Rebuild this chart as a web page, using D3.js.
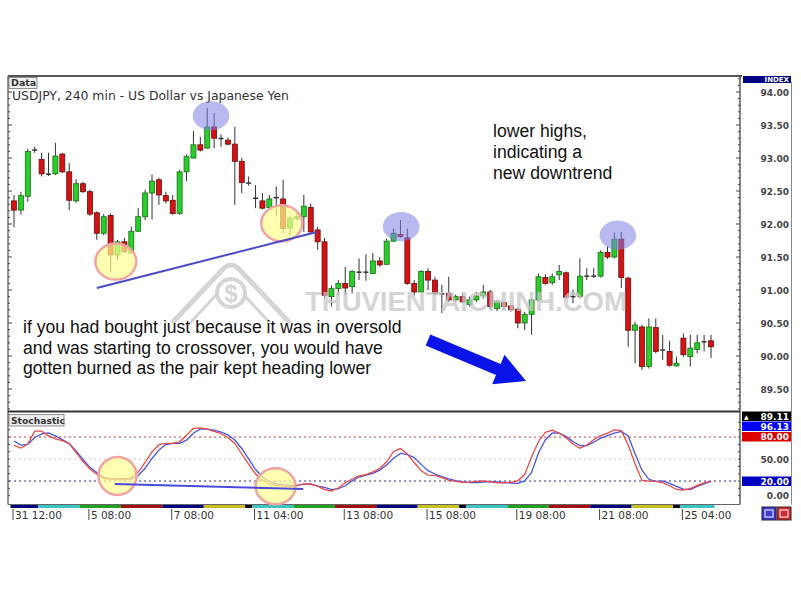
<!DOCTYPE html>
<html>
<head>
<meta charset="utf-8">
<script src="https://cdn.jsdelivr.net/npm/d3@7"></script>
<style>
  html, body { margin: 0; padding: 0; background: #fff; }
  svg { display: block; }
</style>
</head>
<body>
<svg id="chart" width="801" height="600"></svg>
<script>
// USDJPY 240 min candles
const opens = [92.35,92.21,92.42,93.11,92.98,92.76,92.76,93.06,92.79,92.35,
  92.61,92.49,92.17,91.86,92.13,91.53,91.73,91.56,91.89,92.11,
  92.47,92.67,92.43,92.36,92.16,92.79,93.00,93.20,93.15,93.47,
  93.30,93.27,93.21,92.95,92.62,92.39,92.35,92.25,92.40,92.38,
  91.94,92.08,92.11,92.25,91.91,91.73,90.90,91.02,91.10,91.05,
  91.27,91.27,91.25,91.44,91.39,91.74,91.84,91.79,91.10,90.97,
  91.28,91.15,90.94,90.95,90.85,90.90,90.78,90.85,90.91,90.97,
  90.72,90.81,90.76,90.71,90.50,90.63,90.85,91.19,91.11,91.23,
  91.26,90.90,90.90,91.21,91.21,91.21,91.57,91.50,91.77,91.18,
  90.39,90.44,89.84,90.43,90.09,90.07,89.85,90.27,89.99,90.10,
  90.21,90.23];
const highs = [92.44,92.49,93.14,93.17,93.08,93.08,93.23,93.08,92.92,92.68,
  92.64,92.52,92.19,92.15,92.16,91.76,91.79,91.96,92.24,92.52,
  92.75,92.70,92.49,92.44,92.82,93.05,93.41,93.32,93.76,93.68,
  93.36,93.31,93.47,93.00,92.72,92.59,92.47,92.44,92.57,92.67,
  92.13,92.19,92.44,92.31,91.96,91.79,91.07,91.15,91.35,91.30,
  91.48,91.54,91.56,91.50,91.78,91.93,92.06,91.93,91.15,91.30,
  91.33,91.20,91.08,91.20,90.93,90.95,90.90,90.97,91.08,91.00,
  90.85,90.83,90.78,90.73,90.67,90.87,91.25,91.24,91.25,91.38,
  91.28,91.00,91.48,91.33,91.33,91.60,91.66,91.87,91.88,91.20,
  90.52,90.47,90.57,90.57,90.32,90.23,89.99,90.34,90.32,90.32,
  90.32,90.32];
const lows = [91.95,92.14,92.34,93.08,92.72,92.73,92.74,92.77,92.21,92.32,
  92.47,92.12,91.76,91.83,91.28,91.45,91.56,91.55,91.88,92.06,
  92.07,92.29,92.31,92.14,92.14,92.65,92.99,93.10,93.14,93.15,
  93.17,93.19,92.29,92.47,92.58,92.24,92.22,92.21,92.11,91.86,
  91.83,92.05,91.88,91.86,91.61,90.87,90.75,90.92,90.92,90.95,
  91.15,91.14,91.24,91.35,91.38,91.73,91.79,91.08,90.92,90.96,
  91.00,90.92,90.65,90.82,90.82,90.80,90.75,90.82,90.87,90.70,
  90.68,90.71,90.67,90.42,90.39,90.32,90.82,91.08,91.08,91.15,
  90.87,90.80,90.87,91.15,91.18,91.19,91.47,91.48,91.03,90.14,
  89.89,89.79,89.81,90.04,89.94,89.84,89.84,89.99,89.84,90.04,
  90.07,89.97];
const closes = [92.21,92.43,93.10,93.13,92.76,92.75,93.03,92.79,92.36,92.61,
  92.49,92.15,91.86,92.11,91.53,91.73,91.58,91.89,92.11,92.47,
  92.65,92.44,92.35,92.16,92.79,93.02,93.20,93.12,93.47,93.30,
  93.29,93.21,92.95,92.63,92.62,92.39,92.24,92.38,92.40,91.93,
  92.09,92.11,92.27,91.88,91.73,90.92,91.02,91.10,91.03,91.28,
  91.27,91.27,91.44,91.38,91.74,91.86,91.81,91.10,90.97,91.28,
  91.15,90.95,90.94,90.85,90.90,90.82,90.85,90.91,90.97,90.75,
  90.82,90.75,90.70,90.50,90.63,90.85,91.20,91.10,91.20,91.28,
  90.89,90.90,91.21,91.21,91.21,91.57,91.50,91.77,91.19,90.39,
  90.47,89.84,90.44,90.07,90.09,89.86,89.89,90.02,90.12,90.20,
  90.22,90.14];

// stochastic lines, one value per bar
const stochRed = [68.7,65,70.5,88,88,81.7,77.6,75.2,71.1,58.9,
  46.9,36.4,29.3,23.5,22.8,23.2,21.7,24.6,32.3,45.4,
  59.6,69.6,71.5,71.5,73.5,82.5,92,92.6,90.9,87.9,
  84.5,79.4,71.2,56.9,43.2,29.9,21,16,14.2,13.1,
  12.3,13.9,16.2,15.6,13,8.3,6.4,10.5,17.7,22.8,
  26.9,28.9,32.5,37.1,46.3,60.3,64.3,56.8,44.9,34,
  28.2,27.7,24.7,20.9,19.5,18.3,18.6,19.5,20.1,19.1,
  17.6,17.7,18.3,20.3,28.9,52.8,74,86.4,89.4,85.5,
  79,70.5,64.8,69.2,76.3,82.1,85.5,89.9,88.8,69.2,
  43.4,20.9,19.8,19.5,17.7,13.6,8.5,7.8,9.8,14.2,
  17.5,19.9];
const stochBlue = [74.6,69,70,79.4,84.4,85.8,81.6,76.5,71.2,61.1,
  49.4,38.7,31.7,25.1,22.8,23.3,23.1,22.8,27.6,37.4,
  50.8,62.3,69.8,71.5,71.5,75.7,85.1,91,90.9,89.4,
  86.9,82.9,76,64.4,50.1,35.7,25.9,19.4,16.1,15.1,
  14.2,14.2,15.7,16,13.2,11.2,8.3,9.5,13.6,20.3,
  25.5,28,30.4,34.9,41.9,51.2,57.7,56.2,52,42.7,
  34.2,29.6,26.1,23,20.6,18.8,18,17.9,18.7,19.1,
  18.8,18,17.3,16.9,20.1,31.7,58.3,76.4,85.5,85.3,
  80.9,73.9,68.4,68.2,73,78.6,82.1,85.5,87.7,81.4,
  57.2,34.7,22.4,19.4,20.1,16.9,12.6,9.1,8.5,12.8,
  16.2,19.4];

// axis labels
const priceTicks = [89.5, 90, 90.5, 91, 91.5, 92, 92.5, 93, 93.5, 94];
const timeLabels = ['31 12:00', '5 08:00', '7 08:00', '11 04:00', '13 08:00', '15 08:00', '19 08:00', '21 08:00', '25 04:00'];
const timeLabelBars = [0, 11, 23, 35, 48, 60, 73, 85, 97];

// day colour strip under the time axis (colour, number of bars)
const dayColors = ['#000080','#3cc4c4','#22a022','#a01010','#000080','#c8c020','#000000',
  '#3cc4c4','#22a022','#a01010','#000080','#c8c020','#000000',
  '#3cc4c4','#22a022','#a01010','#000080','#c8c020','#000000','#3cc4c4'];
const dayBars = [4,6,6,6,6,6,1,6,6,6,6,6,1,6,6,6,6,6,1,5];

// stochastic side labels
const stochBoxes = [
  { text: '89.11', fill: '#000000', top: 411.5, arrow: true },
  { text: '96.13', fill: '#0000ff', top: 421.5 },
  { text: '80.00', fill: '#dd0000', top: 432 },
  { text: '20.00', fill: '#0000c0', top: 476.5 }
];
const stochPlainLabels = [50, 0];

// annotations in chart units
const blueMarks = [{ bar: 28.55, price: 93.64 }, { bar: 56.1, price: 91.96 }, { bar: 87.5, price: 91.83 }];
const yellowMarks = [{ bar: 14.75, price: 91.43 }, { bar: 38.8, price: 92.01 }];
const trendLine = [{ bar: 12, price: 91.03 }, { bar: 43.9, price: 91.88 }];
const stochYellow = [{ bar: 15, v: 27, rx: 19, ry: 19 }, { bar: 37.9, v: 12.8, rx: 20, ry: 18 }];
const stochLine = [{ bar: 14.6, v: 16 }, { bar: 41.9, v: 9.1 }];

const noteRight = ['lower highs,', 'indicating a', 'new downtrend'];
const noteLeft = ['if you had bought just because it was in oversold',
  'and was starting to crossover, you would have',
  'gotten burned as the pair kept heading lower'];

document.addEventListener('DOMContentLoaded', function() {
    const svg = d3.select('#chart');

    const x = d3.scaleLinear().domain([0, 101]).range([14, 711]);
    const y = d3.scaleLinear().domain([89.5, 94]).range([389, 92]);
    const ys = d3.scaleLinear().domain([0, 100]).range([495.7, 422.4]);

    const left = 8, right = 740, top = 76, sep = 411.5, bottom = 504.5, edge = 791.5;

    // frame
    svg.append('line').attr('x1', left).attr('x2', right + 2).attr('y1', top).attr('y2', top)
        .attr('stroke', '#555').attr('stroke-width', 2);
    svg.append('line').attr('x1', left).attr('x2', left).attr('y1', top).attr('y2', bottom)
        .attr('stroke', '#555').attr('stroke-width', 1.3);
    svg.append('line').attr('x1', right).attr('x2', right).attr('y1', top).attr('y2', bottom)
        .attr('stroke', '#444').attr('stroke-width', 1.3);
    svg.append('line').attr('x1', edge).attr('x2', edge).attr('y1', top + 6).attr('y2', bottom)
        .attr('stroke', '#888').attr('stroke-width', 1);
    svg.append('line').attr('x1', left).attr('x2', right).attr('y1', sep).attr('y2', sep)
        .attr('stroke', '#333').attr('stroke-width', 2);
    svg.append('line').attr('x1', left).attr('x2', right).attr('y1', bottom).attr('y2', bottom)
        .attr('stroke', '#666').attr('stroke-width', 1);

    // small ticks on both price edges
    const minorTicks = d3.range(0, 51).map(k => +(89.2 + k * 0.1).toFixed(1));
    const isMajor = v => Math.abs(v * 2 - Math.round(v * 2)) < 1e-6;
    svg.append('g').selectAll('line').data(minorTicks).join('line')
        .attr('x1', d => right - (isMajor(d) ? 4 : 2)).attr('x2', right)
        .attr('y1', d => y(d)).attr('y2', d => y(d))
        .attr('stroke', '#444');
    svg.append('g').selectAll('line').data(minorTicks).join('line')
        .attr('x1', left).attr('x2', d => left + (isMajor(d) ? 4 : 2))
        .attr('y1', d => y(d)).attr('y2', d => y(d))
        .attr('stroke', '#444');
    const stochTicks = d3.range(0, 101, 10);
    svg.append('g').selectAll('line').data(stochTicks).join('line')
        .attr('x1', right - 2).attr('x2', right)
        .attr('y1', d => ys(d)).attr('y2', d => ys(d))
        .attr('stroke', '#444');
    svg.append('g').selectAll('line').data(stochTicks).join('line')
        .attr('x1', left).attr('x2', left + 2)
        .attr('y1', d => ys(d)).attr('y2', d => ys(d))
        .attr('stroke', '#444');

    // price labels
    svg.append('g').selectAll('text').data(priceTicks).join('text')
        .attr('x', 789).attr('y', d => y(d) + 3.5)
        .attr('text-anchor', 'end')
        .attr('font-family', 'DejaVu Sans, sans-serif').attr('font-size', 9).attr('font-weight', 'bold')
        .attr('fill', '#444')
        .text(d => d.toFixed(2));

    // INDEX header
    svg.append('rect').attr('x', 743).attr('y', 76).attr('width', 48).attr('height', 7).attr('fill', '#000080');
    svg.append('text').attr('x', 789).attr('y', 82.3).attr('text-anchor', 'end')
        .attr('font-family', 'DejaVu Sans, sans-serif').attr('font-size', 7).attr('font-weight', 'bold')
        .attr('fill', '#fff').text('INDEX');

    // title and panel tags
    svg.append('rect').attr('x', 9).attr('y', 77.5).attr('width', 28).attr('height', 11)
        .attr('fill', '#eee').attr('stroke', '#777').attr('stroke-width', 0.8);
    svg.append('text').attr('x', 11).attr('y', 86.3)
        .attr('font-family', 'DejaVu Sans, sans-serif').attr('font-size', 9.5).attr('font-weight', 'bold')
        .attr('fill', '#333').text('Data');
    svg.append('text').attr('x', 12).attr('y', 99.5)
        .attr('font-family', 'DejaVu Sans, sans-serif').attr('font-size', 12.4)
        .attr('fill', '#333').text('USDJPY, 240 min - US Dollar vs Japanese Yen');

    svg.append('rect').attr('x', 9).attr('y', 414.5).attr('width', 55).attr('height', 11.5)
        .attr('fill', '#eee').attr('stroke', '#777').attr('stroke-width', 0.8);
    svg.append('text').attr('x', 11).attr('y', 423.5)
        .attr('font-family', 'DejaVu Sans, sans-serif').attr('font-size', 9.2).attr('font-weight', 'bold')
        .attr('fill', '#333').text('Stochastic');

    // candles
    const candles = opens.map((o, i) => ({ i: i, o: o, h: highs[i], l: lows[i], c: closes[i] }));
    const cg = svg.append('g');
    cg.selectAll('line.wick').data(candles).join('line')
        .attr('class', 'wick')
        .attr('x1', d => x(d.i)).attr('x2', d => x(d.i))
        .attr('y1', d => y(d.h)).attr('y2', d => y(d.l))
        .attr('stroke', '#333').attr('stroke-width', 1);
    cg.selectAll('rect').data(candles.filter(d => Math.abs(d.o - d.c) >= 0.02)).join('rect')
        .attr('x', d => x(d.i) - 2.5).attr('width', 5)
        .attr('y', d => y(Math.max(d.o, d.c)))
        .attr('height', d => Math.max(1, y(Math.min(d.o, d.c)) - y(Math.max(d.o, d.c))))
        .attr('fill', d => d.c > d.o ? '#2ccc2c' : '#d41414')
        .attr('stroke', d => d.c > d.o ? '#157015' : '#6a0a0a')
        .attr('stroke-width', 0.8);
    cg.selectAll('line.doji').data(candles.filter(d => Math.abs(d.o - d.c) < 0.02)).join('line')
        .attr('class', 'doji')
        .attr('x1', d => x(d.i) - 2.5).attr('x2', d => x(d.i) + 2.5)
        .attr('y1', d => y((d.o + d.c) / 2)).attr('y2', d => y((d.o + d.c) / 2))
        .attr('stroke', '#333').attr('stroke-width', 1.5);

    // stochastic levels
    const levels = [{ v: 80, c: '#cc3b3b' }, { v: 50, c: '#cccccc' }, { v: 20, c: '#2a2aa0' }];
    svg.append('g').selectAll('line').data(levels).join('line')
        .attr('x1', left + 1).attr('x2', right - 1)
        .attr('y1', d => ys(d.v)).attr('y2', d => ys(d.v))
        .attr('stroke', d => d.c).attr('stroke-width', 1)
        .attr('stroke-dasharray', '2,3');

    const stochPath = d3.line().x((d, i) => x(i)).y(d => ys(d));
    svg.append('path').datum(stochBlue).attr('d', stochPath)
        .attr('fill', 'none').attr('stroke', '#4a56e0').attr('stroke-width', 1.3);
    svg.append('path').datum(stochRed).attr('d', stochPath)
        .attr('fill', 'none').attr('stroke', '#e84a4a').attr('stroke-width', 1.3);

    // stochastic side labels
    const sb = svg.append('g').selectAll('g').data(stochBoxes).join('g');
    sb.append('rect').attr('x', 742).attr('y', d => d.top).attr('width', 49).attr('height', 9.5)
        .attr('fill', d => d.fill);
    sb.append('text').attr('x', 789).attr('y', d => d.top + 8)
        .attr('text-anchor', 'end')
        .attr('font-family', 'DejaVu Sans, sans-serif').attr('font-size', 9).attr('font-weight', 'bold')
        .attr('fill', '#fff').text(d => d.text);
    sb.filter(d => d.arrow).append('text').attr('x', 744).attr('y', d => d.top + 7.5)
        .attr('font-family', 'DejaVu Sans, sans-serif').attr('font-size', 6)
        .attr('fill', '#fff').text('\u25B2');
    svg.append('g').selectAll('text').data(stochPlainLabels).join('text')
        .attr('x', 789).attr('y', d => ys(d) + 3.5)
        .attr('text-anchor', 'end')
        .attr('font-family', 'DejaVu Sans, sans-serif').attr('font-size', 9).attr('font-weight', 'bold')
        .attr('fill', '#444').text(d => d.toFixed(2));

    // day colour strip
    let start = -0.5;
    const segs = dayBars.map((n, k) => {
        const s = { from: start, to: start + n, color: dayColors[k] };
        start += n;
        return s;
    });
    svg.append('g').selectAll('rect').data(segs).join('rect')
        .attr('x', d => x(d.from)).attr('width', d => x(d.to) - x(d.from))
        .attr('y', 505).attr('height', 3)
        .attr('fill', d => d.color);

    // time axis
    const tl = svg.append('g').selectAll('g').data(timeLabels).join('g')
        .attr('transform', (d, k) => `translate(${x(timeLabelBars[k]) - 1},0)`);
    tl.append('line').attr('x1', 0).attr('x2', 0).attr('y1', 509).attr('y2', 520)
        .attr('stroke', '#444');
    tl.append('text').attr('x', 2).attr('y', 518.5)
        .attr('font-family', 'DejaVu Sans, sans-serif').attr('font-size', 10.5)
        .attr('fill', '#333').text(d => d);

    // corner buttons
    svg.append('rect').attr('x', 762).attr('y', 507).attr('width', 14).attr('height', 13)
        .attr('fill', '#3a3ad0').attr('stroke', '#223');
    svg.append('rect').attr('x', 777).attr('y', 507).attr('width', 14).attr('height', 13)
        .attr('fill', '#d02a2a').attr('stroke', '#322');
    svg.append('rect').attr('x', 765).attr('y', 510).attr('width', 8).attr('height', 7)
        .attr('fill', 'none').attr('stroke', '#fff');
    svg.append('rect').attr('x', 780).attr('y', 510).attr('width', 8).attr('height', 7)
        .attr('fill', 'none').attr('stroke', '#fff');

    // watermark
    const wm = svg.append('g').attr('opacity', 0.75);
    wm.append('path').attr('d', 'M172,323 L224,268 Q231,262 238,268 L290,323')
        .attr('fill', 'none').attr('stroke', '#c8c8c8').attr('stroke-width', 5);
    wm.append('path').attr('d', 'M190,323 L230,280 L270,323')
        .attr('fill', 'none').attr('stroke', '#c8c8c8').attr('stroke-width', 3);
    wm.append('circle').attr('cx', 231).attr('cy', 293).attr('r', 14)
        .attr('fill', '#fff').attr('stroke', '#c8c8c8').attr('stroke-width', 4);
    wm.append('text').attr('x', 231).attr('y', 302).attr('text-anchor', 'middle')
        .attr('font-family', 'Liberation Sans, Arial, sans-serif').attr('font-size', 24).attr('font-weight', 'bold')
        .attr('fill', '#c8c8c8').text('$');
    wm.append('text').attr('x', 305).attr('y', 311)
        .attr('font-family', 'Liberation Sans, Arial, sans-serif').attr('font-size', 27.5).attr('font-weight', 'bold')
        .attr('fill', '#c8c8c8').text('THUVIENTAICHINH.COM');

    // highlights
    svg.append('g').selectAll('ellipse').data(blueMarks).join('ellipse')
        .attr('cx', d => x(d.bar)).attr('cy', d => y(d.price))
        .attr('rx', 18.3).attr('ry', 14.6)
        .attr('fill', '#7f7fe6').attr('opacity', 0.55);
    svg.append('g').selectAll('ellipse').data(yellowMarks).join('ellipse')
        .attr('cx', d => x(d.bar)).attr('cy', d => y(d.price))
        .attr('rx', 20.5).attr('ry', 18)
        .attr('fill', '#ffff90').attr('fill-opacity', 0.7)
        .attr('stroke', '#f0a4a4').attr('stroke-width', 2.5);
    svg.append('line')
        .attr('x1', x(trendLine[0].bar)).attr('y1', y(trendLine[0].price))
        .attr('x2', x(trendLine[1].bar)).attr('y2', y(trendLine[1].price))
        .attr('stroke', '#4a4ac8').attr('stroke-width', 2);

    svg.append('g').selectAll('ellipse').data(stochYellow).join('ellipse')
        .attr('cx', d => x(d.bar)).attr('cy', d => ys(d.v))
        .attr('rx', d => d.rx).attr('ry', d => d.ry)
        .attr('fill', '#ffff90').attr('fill-opacity', 0.7)
        .attr('stroke', '#f0a4a4').attr('stroke-width', 2.5);
    svg.append('line')
        .attr('x1', x(stochLine[0].bar)).attr('y1', ys(stochLine[0].v))
        .attr('x2', x(stochLine[1].bar)).attr('y2', ys(stochLine[1].v))
        .attr('stroke', '#4a4ad8').attr('stroke-width', 2);

    // big blue arrow
    const from = [428, 340], to = [526, 381];
    const len = Math.hypot(to[0] - from[0], to[1] - from[1]);
    const ux = (to[0] - from[0]) / len, uy = (to[1] - from[1]) / len;
    const nx = -uy, ny = ux;
    const hb = [to[0] - 30 * ux, to[1] - 30 * uy];
    const pts = [
        [from[0] + 6 * nx, from[1] + 6 * ny],
        [hb[0] + 6 * nx, hb[1] + 6 * ny],
        [hb[0] + 16 * nx, hb[1] + 16 * ny],
        to,
        [hb[0] - 16 * nx, hb[1] - 16 * ny],
        [hb[0] - 6 * nx, hb[1] - 6 * ny],
        [from[0] - 6 * nx, from[1] - 6 * ny]
    ];
    svg.append('polygon').attr('points', pts.map(p => p.join(',')).join(' '))
        .attr('fill', '#0a14e8');

    // notes
    svg.append('g').selectAll('text').data(noteRight).join('text')
        .attr('x', 493).attr('y', (d, k) => 136.5 + k * 21)
        .attr('font-family', 'Liberation Sans, Arial, sans-serif').attr('font-size', 17.6)
        .attr('fill', '#111').text(d => d);
    svg.append('g').selectAll('text').data(noteLeft).join('text')
        .attr('x', 23).attr('y', (d, k) => 333 + k * 20.5)
        .attr('font-family', 'Liberation Sans, Arial, sans-serif').attr('font-size', 17.6)
        .attr('fill', '#111').text(d => d);
});
</script>
</body>
</html>
